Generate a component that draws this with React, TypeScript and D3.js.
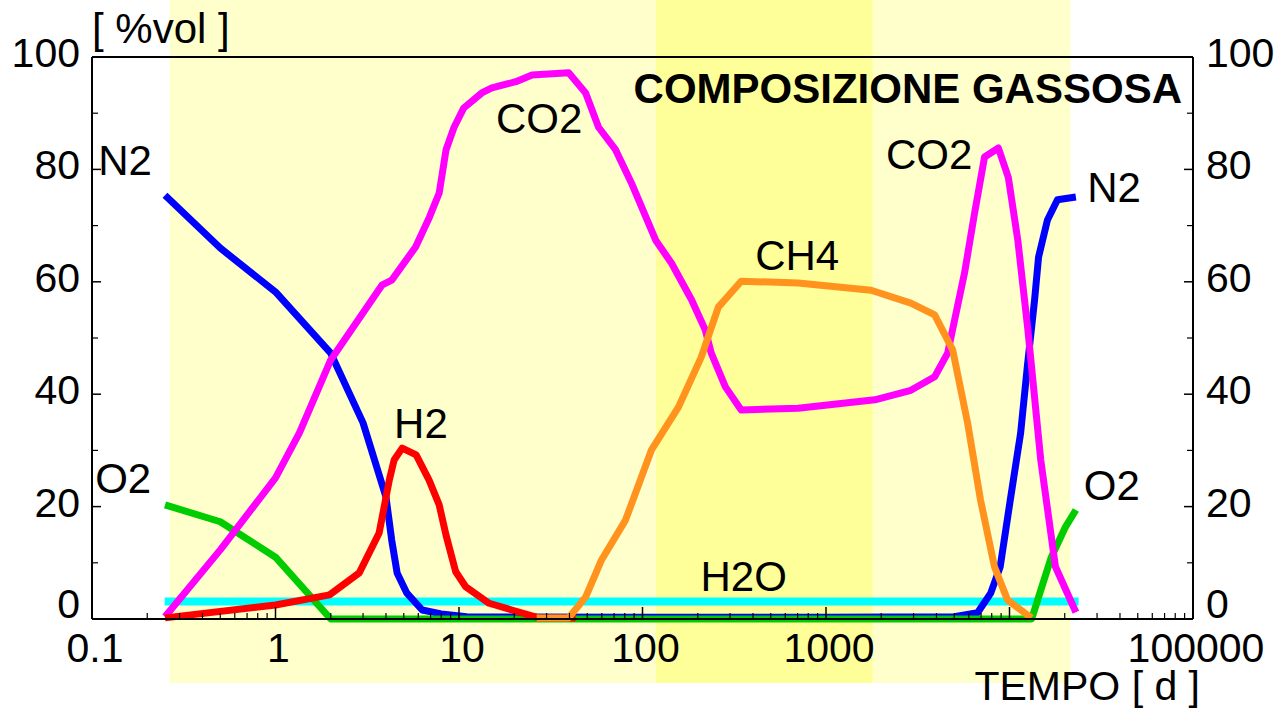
import React from 'react';
import * as d3 from 'd3';

// ---------- data ----------
const xTickLabels = [0.1, 1, 10, 100, 1000, 100000];
const yTickValues = [0, 20, 40, 60, 80, 100];
const yMinorValues = [10, 30, 50, 70, 90];

// phase bands (days)
const bandStart = [0.265, 118, 1800];
const bandEnd = [118, 1800, 21500];
const bandColor = ['#FFFFCC', '#FFFF99', '#FFFFCC'];

// N2
const n2Days = [0.25, 0.5, 1, 2, 3, 4, 4.3, 4.6, 5.2, 6.3, 8, 11, 100, 1000, 5000, 6700, 7900, 8900, 10100, 11500, 12500, 13700, 14400, 16100, 18250, 23000];
const n2Vol = [75.4, 66, 58.2, 47.3, 34.9, 21.7, 14, 8.2, 4.6, 1.6, 0.9, 0.4, 0.3, 0.3, 0.4, 1.1, 4.6, 9.3, 21.2, 33.1, 44.8, 56.8, 64.4, 71, 74.6, 75.1];

// CO2
const co2Days = [0.25, 0.5, 1, 1.35, 2, 3.8, 4.3, 5.8, 6.9, 7.8, 8.5, 9.4, 10.6, 13.3, 15.1, 20.4, 25, 39.6, 49, 57.6, 71.3, 87, 118, 144, 185, 220, 237, 283, 345, 705, 1845, 2900, 3910, 4600, 5690, 6450, 7310, 8700, 9850, 11100, 12600, 14800, 17800, 23000];
const co2Vol = [0.4, 12.3, 25.1, 33.1, 46.1, 59.4, 60.3, 66.2, 71.5, 75.8, 83.5, 87.5, 90.9, 93.6, 94.5, 95.6, 96.8, 97.2, 93.6, 87.5, 83.5, 77.6, 67.4, 63.3, 56.8, 51.4, 47.3, 41.3, 37.2, 37.5, 39.0, 40.7, 43.1, 47.3, 61.6, 72.2, 82.2, 83.8, 78.6, 67.4, 51.4, 28.3, 9.3, 1.2];

// CH4
const ch4Days = [26.5, 39.6, 49, 59.8, 80.8, 112, 157, 209, 259, 345, 705, 1760, 2900, 3910, 4900, 5910, 6950, 8280, 9750, 12070, 13200];
const ch4Vol = [0.2, 0.2, 3.9, 10.5, 17.6, 30.1, 37.7, 46.6, 55.5, 60.1, 59.8, 58.5, 56.2, 54.1, 47.9, 34.9, 21.2, 9.3, 3.4, 1.1, 0.2];

// H2
const h2Days = [0.25, 1, 1.97, 2.86, 3.67, 4.17, 4.43, 4.9, 5.84, 6.87, 7.8, 8.5, 9.6, 10.9, 14.6, 19.4, 27.2, 43.2];
const h2Vol = [0.2, 2.5, 4.3, 8.2, 15.3, 24.7, 28.3, 30.4, 29.2, 24.7, 20.3, 14.9, 8.4, 5.7, 2.8, 1.6, 0.2, 0.2];

// O2
const o2Days = [0.25, 0.5, 1, 2, 13200, 14400, 16900, 20200, 23000];
const o2Vol = [20.3, 17.3, 11.0, 0, 0, 3.9, 11, 16.4, 19.4];

// H2O
const h2oDays = [0.249, 23800];
const h2oVol = [3.1, 3.1];

// curve labels: text, day, vol (left/baseline anchor)
const labelText = ['N2', 'O2', 'H2', 'CO2', 'H2O', 'CH4', 'CO2', 'N2', 'O2'];
const labelDay = [0.108, 0.104, 4.43, 15.9, 207, 411, 2120, 26500, 25400];
const labelVol = [79, 22.4, 32.2, 86.5, 5.0, 62.1, 80.1, 74.2, 21.2];

// ---------- chart ----------
const W = 1281;
const H = 711;
const LEFT = 92, RIGHT = 1193, TOP = 57, BOTTOM = 619;
const FONT = '"Liberation Sans", Arial, Helvetica, sans-serif';

export default function App() {
  const x = d3.scaleLog().domain([0.1, 100000]).range([LEFT, RIGHT]);
  const y = d3.scaleLinear().domain([0, 100]).range([BOTTOM, TOP]);

  const mk = (days: number[], vols: number[]) =>
    d3.line<number>().x((_, i) => x(days[i])).y((_, i) => y(vols[i]))(vols.map((v) => v)) || '';

  const series = [
    { d: mk(h2oDays, h2oVol), color: '#00FFFF', w: 8 },
    { d: mk(n2Days, n2Vol), color: '#0000FF', w: 7 },
    { d: mk(o2Days, o2Vol), color: '#00CC00', w: 7 },
    { d: mk(co2Days, co2Vol), color: '#FF00FF', w: 7 },
    { d: mk(h2Days, h2Vol), color: '#FF0000', w: 7 },
    { d: mk(ch4Days, ch4Vol), color: '#FF931E', w: 7 },
  ];

  const minorX: number[] = [];
  for (let dec = 0.1; dec < 100000; dec *= 10) {
    for (let k = 2; k <= 9; k++) minorX.push(+(dec * k).toPrecision(3));
  }
  const majorX = [0.1, 1, 10, 100, 1000, 10000, 100000];

  return (
    <svg
      width={W}
      height={H}
      style={{ position: 'fixed', left: 0, top: 0, background: '#fff' }}
      fontFamily={FONT}
    >
      <rect x={0} y={0} width={W} height={H} fill="#fff" />
      {bandStart.map((s, i) => (
        <rect key={'b' + i} x={x(s)} y={0} width={x(bandEnd[i]) - x(s)} height={683} fill={bandColor[i]} />
      ))}

      {series.map((s, i) => (
        <path key={'s' + i} d={s.d} fill="none" stroke={s.color} strokeWidth={s.w} strokeLinejoin="round" strokeLinecap="butt" />
      ))}

      {/* frame */}
      <line x1={LEFT} x2={RIGHT} y1={TOP} y2={TOP} stroke="#000" strokeWidth={2} />
      <line x1={LEFT} x2={RIGHT} y1={BOTTOM} y2={BOTTOM} stroke="#000" strokeWidth={2} />
      <line x1={LEFT} x2={LEFT} y1={TOP} y2={BOTTOM} stroke="#000" strokeWidth={2} />
      <line x1={RIGHT} x2={RIGHT} y1={TOP} y2={BOTTOM} stroke="#000" strokeWidth={2} />

      {/* x ticks */}
      {majorX.map((t) => (
        <line key={'xm' + t} x1={x(t)} x2={x(t)} y1={BOTTOM} y2={BOTTOM - 12} stroke="#000" strokeWidth={1.5} />
      ))}
      {minorX.map((t) => (
        <line key={'xn' + t} x1={x(t)} x2={x(t)} y1={BOTTOM} y2={BOTTOM - 6} stroke="#000" strokeWidth={1.2} />
      ))}
      {xTickLabels.map((t) => (
        <text key={'xl' + t} x={x(t) + 3} y={BOTTOM + 43} fontSize={41} textAnchor="middle" fill="#000">
          {String(t)}
        </text>
      ))}

      {/* y ticks */}
      {yTickValues.map((v) => (
        <g key={'yt' + v}>
          <line x1={LEFT} x2={LEFT + 9} y1={y(v)} y2={y(v)} stroke="#000" strokeWidth={1.5} />
          <line x1={RIGHT} x2={RIGHT - 9} y1={y(v)} y2={y(v)} stroke="#000" strokeWidth={1.5} />
          <text x={LEFT - 12} y={v === 0 ? y(v) - 1 : y(v) + 10} fontSize={41} textAnchor="end" fill="#000">
            {v}
          </text>
          <text x={RIGHT + 13} y={v === 0 ? y(v) - 1 : y(v) + 10} fontSize={41} textAnchor="start" fill="#000">
            {v}
          </text>
        </g>
      ))}
      {yMinorValues.map((v) => (
        <g key={'ym' + v}>
          <line x1={LEFT} x2={LEFT + 6} y1={y(v)} y2={y(v)} stroke="#000" strokeWidth={1.2} />
          <line x1={RIGHT} x2={RIGHT - 6} y1={y(v)} y2={y(v)} stroke="#000" strokeWidth={1.2} />
        </g>
      ))}

      {/* axis titles */}
      <text x={LEFT} y={43} fontSize={42} fill="#000">[ %vol ]</text>
      <text x={1200} y={700} fontSize={41} textAnchor="end" fill="#000">TEMPO [ d ]</text>
      <text x={1182} y={103} fontSize={42} fontWeight="bold" textAnchor="end" fill="#000">COMPOSIZIONE GASSOSA</text>

      {/* curve labels */}
      {labelText.map((s, i) => (
        <text key={'lb' + i} x={x(labelDay[i])} y={y(labelVol[i])} fontSize={42} fill="#000">
          {s}
        </text>
      ))}
    </svg>
  );
}
